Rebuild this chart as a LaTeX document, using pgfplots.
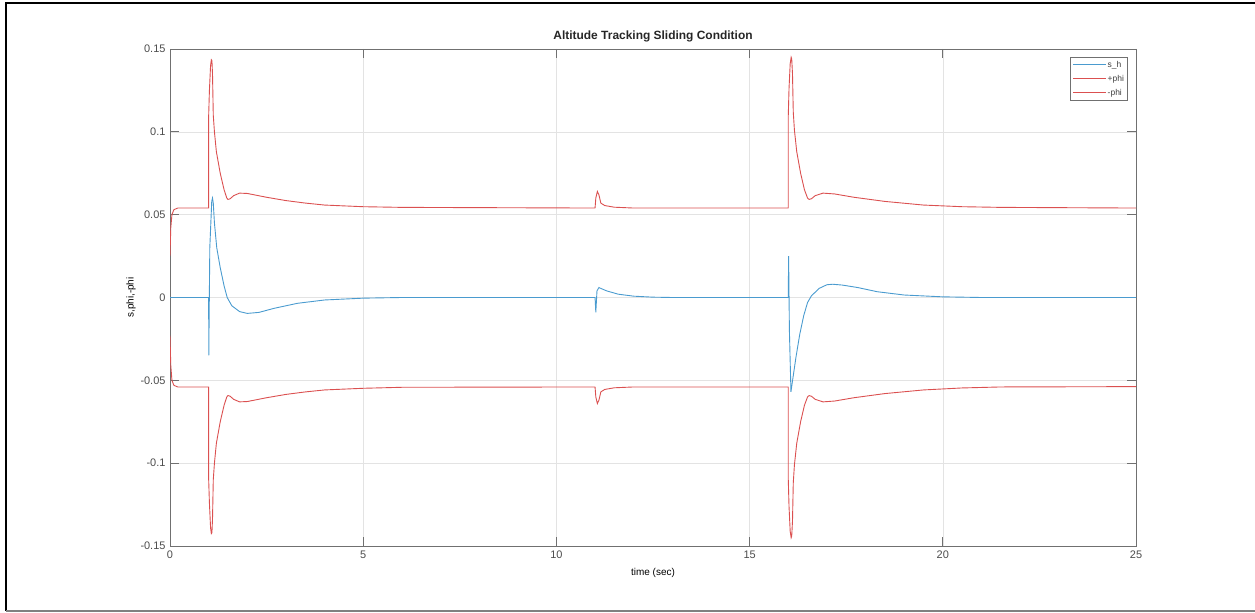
\documentclass[border=0pt]{standalone}
\usepackage{fontspec}
\setmainfont{Liberation Sans}
\usepackage{pgfplots}
\pgfplotsset{compat=1.18}
\usepackage{pgfplotstable}
\definecolor{shblue}{HTML}{4A9BCF}
\definecolor{phired}{HTML}{DB5050}
\definecolor{axgray}{HTML}{707070}
\definecolor{gridgray}{HTML}{E3E3E3}

\pgfplotstableread{
t v
0 0
1.0 0
1.004 -0.035
1.03 0.030
1.08 0.058
1.10 0.060
1.12 0.057
1.15 0.045
1.21 0.030
1.30 0.018
1.40 0.007
1.48 0
1.60 -0.005
1.80 -0.0085
2.00 -0.0096
2.30 -0.0090
2.70 -0.0065
3.30 -0.0035
4.00 -0.0015
5.00 -0.0004
6.00 0
11.00 0
11.02 -0.009
11.05 0.004
11.10 0.006
11.30 0.004
11.60 0.002
12.00 0.0008
12.50 0.0002
13.00 0
16.00 0
16.01 0.025
16.03 -0.020
16.07 -0.057
16.10 -0.052
16.20 -0.036
16.30 -0.022
16.40 -0.011
16.50 -0.003
16.60 0.001
16.80 0.0055
17.00 0.0077
17.15 0.008
17.40 0.0075
17.80 0.006
18.30 0.0035
19.00 0.0015
20.00 0.0004
21.00 0
25.00 0
}\shdata

\pgfplotstableread{
t v
0 0.025
0.02 0.042
0.05 0.050
0.10 0.053
0.20 0.054
1.00 0.054
1.001 0.110
1.02 0.125
1.05 0.140
1.07 0.1435
1.085 0.143
1.10 0.135
1.12 0.110
1.15 0.100
1.20 0.088
1.30 0.075
1.40 0.065
1.47 0.060
1.50 0.0592
1.55 0.0595
1.65 0.0615
1.80 0.063
2.00 0.0628
2.50 0.0605
3.00 0.0585
3.50 0.057
4.00 0.0558
5.00 0.0548
6.00 0.0544
11.00 0.054
11.02 0.060
11.06 0.064
11.10 0.062
11.15 0.057
11.25 0.0555
11.50 0.0545
12.00 0.054
16.00 0.054
16.001 0.110
16.02 0.126
16.05 0.141
16.075 0.145
16.09 0.144
16.11 0.135
16.13 0.112
16.16 0.101
16.22 0.088
16.32 0.075
16.42 0.065
16.50 0.060
16.54 0.0592
16.60 0.0596
16.70 0.0615
16.90 0.063
17.20 0.0625
17.70 0.0605
18.50 0.058
19.50 0.0558
20.50 0.0548
21.50 0.0544
25.00 0.054
}\phipos

\pgfplotstableread{
t v
0 -0.023
0.02 -0.041
0.05 -0.050
0.10 -0.053
0.20 -0.054
1.00 -0.054
1.001 -0.110
1.02 -0.124
1.05 -0.139
1.07 -0.1425
1.085 -0.142
1.10 -0.134
1.12 -0.110
1.15 -0.100
1.20 -0.088
1.30 -0.075
1.40 -0.065
1.47 -0.060
1.50 -0.0592
1.55 -0.0595
1.65 -0.0615
1.80 -0.063
2.00 -0.0628
2.50 -0.0605
3.00 -0.0585
3.50 -0.057
4.00 -0.0558
5.00 -0.0548
6.00 -0.0542
11.00 -0.054
11.02 -0.060
11.06 -0.064
11.10 -0.062
11.15 -0.057
11.25 -0.0555
11.50 -0.0545
12.00 -0.054
16.00 -0.054
16.001 -0.110
16.02 -0.126
16.05 -0.141
16.075 -0.145
16.09 -0.144
16.11 -0.135
16.13 -0.112
16.16 -0.101
16.22 -0.088
16.32 -0.075
16.42 -0.065
16.50 -0.060
16.54 -0.0592
16.60 -0.0596
16.70 -0.0615
16.90 -0.063
17.20 -0.0625
17.70 -0.0605
18.50 -0.058
19.50 -0.0558
20.50 -0.0546
21.50 -0.0540
25.00 -0.0538
}\phineg

\begin{document}
\begin{tikzpicture}
\path[use as bounding box] (0,0) rectangle (1255bp,613bp);
\draw[black, line width=1.6bp] (1255bp,610bp) -- (6bp,610bp) -- (6bp,2bp);
\draw[gray, line width=1.2bp] (6bp,2bp) -- (1255bp,2bp);
\begin{axis}[
  at={(170bp,67bp)}, anchor=south west,
  width=966bp, height=497bp, scale only axis,
  xmin=0, xmax=25, ymin=-0.15, ymax=0.15,
  xtick={0,5,10,15,20,25},
  ytick={-0.15,-0.1,-0.05,0,0.05,0.1,0.15},
  yticklabels={-0.15,-0.1,-0.05,0,0.05,0.1,0.15},
  /pgf/number format/assume math mode=true,
  tick pos=both, tick align=inside,
  major tick length=9bp,
  axis line style={axgray, line width=0.8bp},
  every tick/.style={axgray, line width=0.8bp},
  grid=major,
  major grid style={gridgray, line width=0.6bp},
  tick label style={font=\fontsize{11}{13}\selectfont, text=black!70},
  xticklabel style={yshift=-1bp},
  yticklabel style={xshift=-1bp},
  title={Altitude Tracking Sliding Condition},
  title style={font=\bfseries\fontsize{12}{14}\selectfont, at={(0.5,1)}, anchor=base, yshift=4bp, text=black!85},
  xlabel={time (sec)},
  ylabel={s,phi,-phi},
  label style={font=\fontsize{12}{14}\selectfont, text=black!70},
  every axis x label/.style={at={(axis description cs:0.5,-0.0543)}, anchor=center},
  every axis y label/.style={at={(axis description cs:-0.0404,0.5)}, anchor=center, rotate=90},
  legend style={at={(0.9917,0.984)}, anchor=north east, draw=axgray, line width=0.6bp,
    font=\fontsize{8.5}{9}\selectfont, inner sep=2.5bp, row sep=4bp,
    nodes={inner sep=1.2bp, text=black!75}},
  legend cell align=left,
  legend image code/.code={\draw[#1, line width=0.8bp] (0bp,0bp) -- (33bp,0bp);},
]
\addplot[shblue, line width=0.9bp] table[x=t,y=v] {\shdata};
\addlegendentry{s\_h}
\addplot[phired, line width=0.9bp] table[x=t,y=v] {\phipos};
\addlegendentry{+phi}
\addplot[phired, line width=0.9bp] table[x=t,y=v] {\phineg};
\addlegendentry{-phi}
\end{axis}
\end{tikzpicture}
\end{document}
